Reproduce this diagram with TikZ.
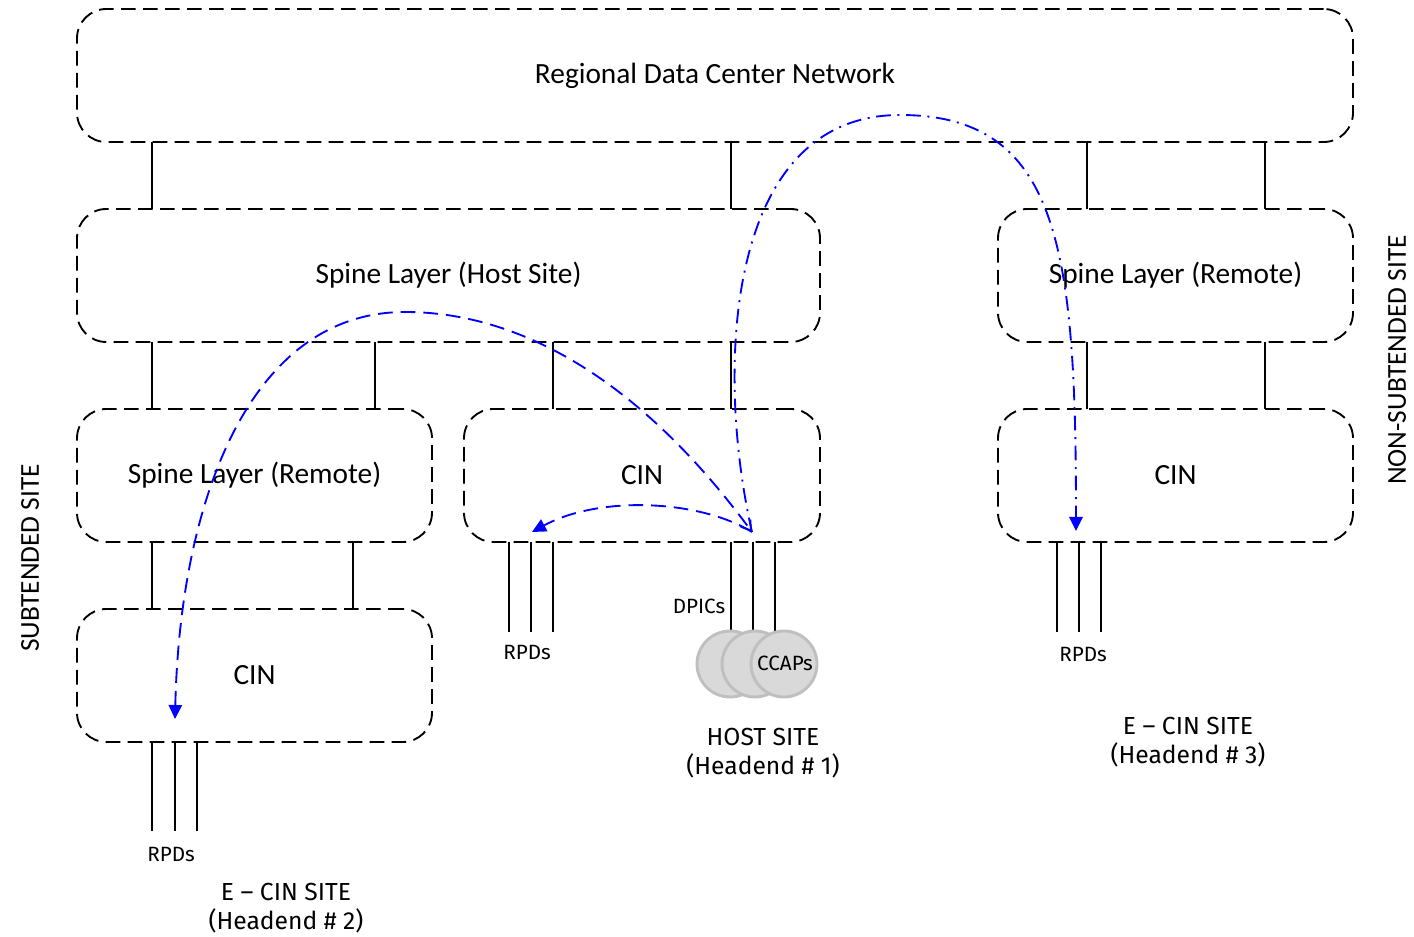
\documentclass[tikz,border=0pt]{standalone}
\usepackage{fontspec}
\setmainfont{Carlito}
\newfontfamily\dinfont{Fira Sans}
\usetikzlibrary{arrows.meta}

\begin{document}
\begin{tikzpicture}[x=0.75pt,y=-0.75pt,
  layerbox/.style={draw=black, line width=1.4pt, dash pattern=on 11pt off 5.5pt,
    rounded corners=22pt, inner sep=0pt, outer sep=0pt,
    minimum height=99.75pt, font=\fontsize{22}{26}\selectfont},
  link/.style={draw=black, line width=1.2pt},
  sidelabel/.style={rotate=90, font=\fontsize{20.5}{24}\selectfont},
  smalllabel/.style={font=\dinfont\fontsize{15.5}{18}\selectfont},
  sitelabel/.style={font=\dinfont\fontsize{18.5}{22}\selectfont, align=center},
  ccap/.style={draw=black!25, fill=black!15, line width=2.2pt},
  bluedash/.style={draw=blue, line width=1.4pt, dash pattern=on 11pt off 6pt},
  bluedashdot/.style={draw=blue, line width=1.4pt, dash pattern=on 11pt off 5pt on 1.5pt off 5pt},
  filltip/.style={-{Triangle[length=10.5pt,width=10pt]}},
]
\useasboundingbox (0,0) rectangle (1414,937);

% network layers
\node[layerbox, minimum width=957pt]    (rdc)   at (715,75.5)    {Regional Data Center Network};
\node[layerbox, minimum width=557.25pt] (host)  at (448.5,275.5) {Spine Layer (Host Site)};
\node[layerbox, minimum width=266.25pt] (spR)   at (1175.5,275.5){Spine Layer (Remote)};
\node[layerbox, minimum width=266.25pt] (spL)   at (254.5,475.5) {Spine Layer (Remote)};
\node[layerbox, minimum width=267pt]    (cinM)  at (642,475.5)   {CIN};
\node[layerbox, minimum width=266.25pt] (cinR)  at (1175.5,475.5){CIN};
\node[layerbox, minimum width=266.25pt] (cinL)  at (254.5,675.5) {CIN};

% uplinks between layers
\draw[link] (rdc.south -| 152,0)  -- (host.north -| 152,0);
\draw[link] (rdc.south -| 731,0)  -- (host.north -| 731,0);
\draw[link] (rdc.south -| 1087,0) -- (spR.north -| 1087,0);
\draw[link] (rdc.south -| 1265,0) -- (spR.north -| 1265,0);
\draw[link] (host.south -| 152,0) -- (spL.north -| 152,0);
\draw[link] (host.south -| 375,0) -- (spL.north -| 375,0);
\draw[link] (host.south -| 553,0) -- (cinM.north -| 553,0);
\draw[link] (host.south -| 731,0) -- (cinM.north -| 731,0);
\draw[link] (spR.south -| 1087,0) -- (cinR.north -| 1087,0);
\draw[link] (spR.south -| 1265,0) -- (cinR.north -| 1265,0);
\draw[link] (spL.south -| 152,0)  -- (cinL.north -| 152,0);
\draw[link] (spL.south -| 353,0)  -- (cinL.north -| 353,0);

% RPD and DPIC drops
\foreach \px in {509,531,553} \draw[link] (cinM.south -| \px,0) -- ++(0,90);
\foreach \px in {731,753,775} \draw[link] (cinM.south -| \px,0) -- ++(0,90);
\foreach \px in {1057,1079,1101} \draw[link] (cinR.south -| \px,0) -- ++(0,90);
\foreach \px in {152,175,197} \draw[link] (cinL.south -| \px,0) -- ++(0,89);

% CCAP stack
\filldraw[ccap] (730,664) circle (33);
\filldraw[ccap] (755,664) circle (33);
\filldraw[ccap] (784,664) circle (33);
\node[smalllabel] (ccaps) at (785,663) {CCAPs};

% labels
\node[smalllabel] (dpics) at (699,606) {DPICs};
\node[smalllabel] (rpdM)  at (527,653) {RPDs};
\node[smalllabel] (rpdR)  at (1083,655) {RPDs};
\node[smalllabel] (rpdL)  at (171,855) {RPDs};
\node[sitelabel] (siteH) at (763,753) {HOST SITE\\(Headend \# 1)};
\node[sitelabel] (siteL) at (286,908) {E – CIN SITE\\(Headend \# 2)};
\node[sitelabel] (siteR) at (1188,742) {E – CIN SITE\\(Headend \# 3)};
\node[sidelabel] (subt)  at (30,558)  {SUBTENDED SITE};
\node[sidelabel] (nsubt) at (1397,360) {NON-SUBTENDED SITE};

% traffic paths from the host CCAPs
\coordinate (hub)  at (752,532);
\coordinate (tgtL) at (175,719);
\coordinate (tgtM) at (532,532);
\coordinate (tgtR) at (1076,531);

\draw[bluedash, {Triangle[length=10.5pt,width=10pt]}-{Straight Barb[length=7pt,width=9pt]}]
      (tgtL) .. controls (180,500) and (250,312) .. (405,312)
      .. controls (520,312) and (640,380) .. (hub);
\draw[bluedash, filltip] (hub) .. controls (700,500) and (600,495) .. (tgtM);
\draw[bluedashdot, filltip] (hub) .. controls (715,370) and (725,115) .. (900,115)
      .. controls (1060,115) and (1076,250) .. (tgtR);
\end{tikzpicture}
\end{document}
